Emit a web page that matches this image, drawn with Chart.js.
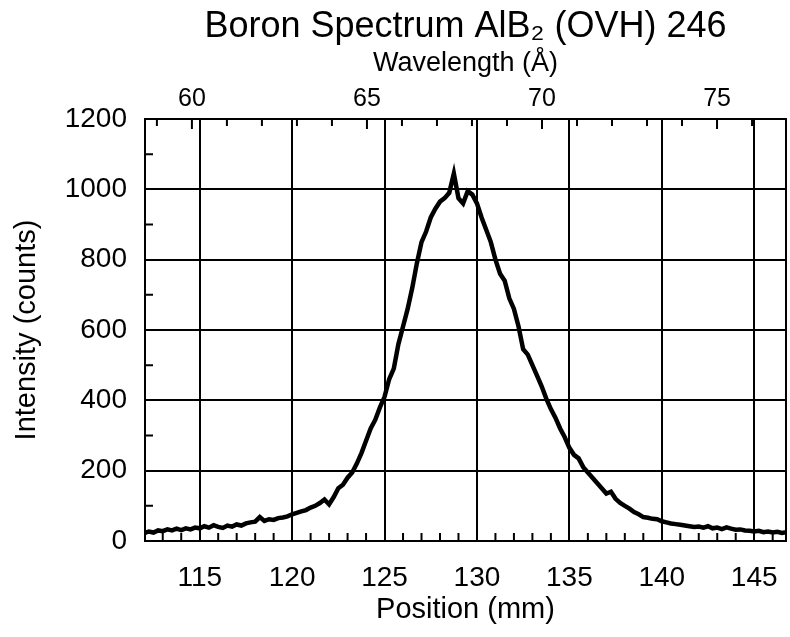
<!DOCTYPE html>
<html><head><meta charset="utf-8">
<script src="https://cdn.jsdelivr.net/npm/chart.js@4.4.0/dist/chart.umd.min.js"></script>
<style>html,body{margin:0;padding:0;background:#fff}canvas{display:block}</style>
</head><body>
<canvas id="c" width="790" height="637"></canvas>
<script>
const titleText = "Boron Spectrum AlB\u2082 (OVH) 246";
const xAxisTitle = "Position (mm)";
const yAxisTitle = "Intensity (counts)";
const topAxisTitle = "Wavelength (\u00C5)";

// positions (mm): 112.00 to 146.75 in 0.25 mm steps
const positionStart = 112.0;
const positionStep = 0.25;
const intensity = [
  22,27,24,30,28,33,30,35,
  31,36,33,38,36,42,38,45,
  40,37,44,41,47,44,50,53,
  55,68,57,62,60,65,67,70,
  76,80,84,88,95,100,108,118,
  104,125,150,160,180,195,220,250,
  285,320,345,380,410,460,490,560,
  610,660,720,790,850,880,920,945,
  965,975,990,1045,975,960,995,985,
  960,920,885,850,800,760,740,690,
  660,610,545,530,500,470,440,405,
  375,350,320,295,265,245,235,210,
  195,180,165,150,135,140,120,108,
  100,92,82,76,68,66,63,62,
  56,53,50,48,46,44,42,40,
  41,38,42,36,38,34,39,35,
  32,33,30,29,27,29,25,27,
  24,26,23,25
];
const positions = intensity.map((_, i) => positionStart + i * positionStep);

const positionTicks = [115, 120, 125, 130, 135, 140, 145];
const intensityTicks = [0, 200, 400, 600, 800, 1000, 1200];
const wavelengthTicks = [60, 65, 70, 75];
const positionMinorTicks = [113,114,116,117,118,119,121,122,123,124,126,127,128,129,131,132,133,134,136,137,138,139,141,142,143,144,146];
const intensityMinorTicks = [100, 300, 500, 700, 900, 1100];
const wavelengthMinorTicks = [59,60,61,62,63,64,65,66,67,68,69,70,71,72,73,74,75,76];

const xMin = 112.04, xMax = 146.72;
const wlMin = 58.66, wlMax = 76.97;

const FONT = "'Liberation Sans', Arial, Helvetica, sans-serif";
Chart.defaults.font.family = FONT;
Chart.defaults.color = '#000';

const TOP_PAD = 47;

const frame = {
  id: 'frame',
  afterDraw(chart) {
    const {ctx, chartArea: a, scales} = chart;
    ctx.save();
    ctx.strokeStyle = '#000';
    ctx.lineWidth = 2;
    ctx.beginPath();
    positionMinorTicks.forEach(v => {
      const x = scales.x.getPixelForValue(v);
      ctx.moveTo(x, a.bottom); ctx.lineTo(x, a.bottom - 8);
    });
    intensityMinorTicks.forEach(v => {
      const y = scales.y.getPixelForValue(v);
      ctx.moveTo(a.left, y); ctx.lineTo(a.left + 8, y);
    });
    wavelengthMinorTicks.forEach(v => {
      const x = scales.x2.getPixelForValue(v);
      ctx.moveTo(x, a.top); ctx.lineTo(x, a.top + (v % 5 === 0 ? 10 : 7));
    });
    ctx.stroke();
    ctx.strokeRect(a.left, a.top, a.right - a.left, a.bottom - a.top);
    // chart title, centred over the plot area
    ctx.fillStyle = '#000';
    ctx.font = "36px " + FONT;
    ctx.textAlign = 'center';
    ctx.textBaseline = 'middle';
    ctx.fillText(titleText, (a.left + a.right) / 2, 27);
    ctx.restore();
  }
};

new Chart(document.getElementById('c'), {
  type: 'line',
  data: {
    datasets: [{
      data: positions.map((x, i) => ({x: x, y: intensity[i]})),
      borderColor: '#000',
      borderWidth: 4.5,
      pointRadius: 0,
      tension: 0,
      xAxisID: 'x',
      yAxisID: 'y'
    }]
  },
  options: {
    responsive: false,
    animation: false,
    devicePixelRatio: 1,
    layout: {autoPadding: false, padding: {top: TOP_PAD, left: 0, right: 4, bottom: 0}},
    plugins: {
      legend: {display: false},
      tooltip: {enabled: false},
      title: {display: false}
    },
    scales: {
      x: {
        type: 'linear', position: 'bottom', min: xMin, max: xMax,
        afterBuildTicks: s => { s.ticks = positionTicks.map(v => ({value: v})); },
        afterFit: s => { s.height = 96; s.paddingLeft = 0; s.paddingRight = 0; },
        grid: {color: '#000', lineWidth: 2, drawTicks: false},
        border: {color: '#000', width: 2},
        ticks: {font: {size: 28}, color: '#000', padding: 20, maxRotation: 0, autoSkip: false,
                callback: v => String(v)},
        title: {display: true, text: xAxisTitle, color: '#000', font: {size: 29}, padding: {top: 0, bottom: 10}}
      },
      x2: {
        type: 'linear', position: 'top', min: wlMin, max: wlMax,
        afterBuildTicks: s => { s.ticks = wavelengthTicks.map(v => ({value: v})); },
        afterFit: s => { s.height = 119 - TOP_PAD; s.paddingLeft = 0; s.paddingRight = 0; },
        grid: {drawOnChartArea: false, drawTicks: false},
        border: {display: true, color: '#000', width: 2},
        ticks: {font: {size: 25}, color: '#000', padding: 5, maxRotation: 0, autoSkip: false,
                callback: v => String(v)},
        title: {display: true, text: topAxisTitle, color: '#000', font: {size: 27}, padding: {top: 0, bottom: 0}}
      },
      y: {
        type: 'linear', position: 'left', min: 0, max: 1200,
        afterBuildTicks: s => { s.ticks = intensityTicks.map(v => ({value: v})); },
        afterFit: s => { s.width = 145; s.paddingTop = 0; s.paddingBottom = 0; },
        grid: {color: '#000', lineWidth: 2, drawTicks: false},
        border: {color: '#000', width: 2},
        ticks: {font: {size: 28}, color: '#000', padding: 18, callback: v => String(v)},
        title: {display: true, text: yAxisTitle, color: '#000', font: {size: 29}, padding: {top: 10, bottom: 0}}
      }
    }
  },
  plugins: [frame]
});
</script>
</body></html>
